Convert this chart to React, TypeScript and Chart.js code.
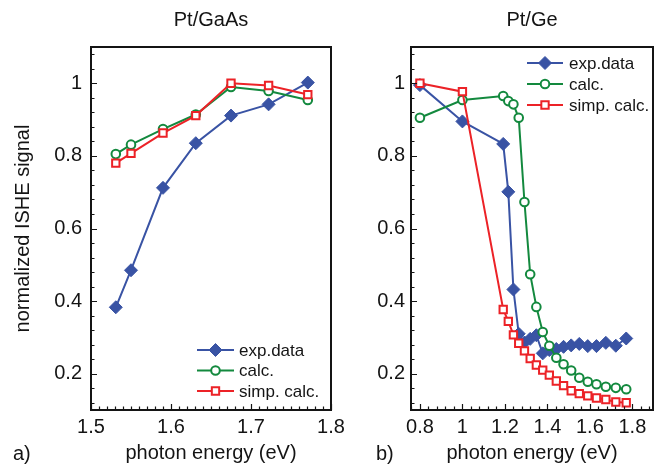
import React, { useEffect, useRef } from "react";
import { Chart, registerables } from "chart.js";
import { drawPoint } from "chart.js/helpers";

Chart.register(...registerables);

const FONT = "'Liberation Sans', Arial, Helvetica, sans-serif";
const INK = "#141414";
const BLUE = "#3953a4";
const GREEN = "#13893e";
const RED = "#ec2227";

// ---- Panel a) Pt/GaAs ----
const energyA = [1.531, 1.55, 1.59, 1.631, 1.675, 1.722, 1.771];
const expA = [0.383, 0.485, 0.712, 0.835, 0.911, 0.942, 1.002];
const calcA = [0.805, 0.831, 0.874, 0.914, 0.99, 0.979, 0.954];
const simpA = [0.78, 0.807, 0.863, 0.911, 1.0, 0.994, 0.969];

// ---- Panel b) Pt/Ge ----
const energyB = [0.8, 1.0, 1.192, 1.216, 1.24, 1.265, 1.292, 1.319, 1.348, 1.378, 1.409, 1.442, 1.476, 1.512, 1.55, 1.59, 1.631, 1.675, 1.722, 1.771];
const expB = [0.995, 0.895, 0.833, 0.701, 0.432, 0.31, 0.286, 0.296, 0.306, 0.256, 0.265, 0.268, 0.274, 0.278, 0.282, 0.276, 0.276, 0.285, 0.277, 0.297];
const calcB = [0.905, 0.954, 0.965, 0.951, 0.942, 0.905, 0.673, 0.474, 0.384, 0.315, 0.277, 0.244, 0.226, 0.209, 0.189, 0.178, 0.171, 0.164, 0.161, 0.157];
const simpB = [1.0, 0.977, 0.377, 0.344, 0.307, 0.284, 0.263, 0.242, 0.224, 0.21, 0.196, 0.18, 0.167, 0.153, 0.145, 0.139, 0.133, 0.129, 0.122, 0.12];

// ---- ticks / labels ----
const yTicks = [0.2, 0.4, 0.6, 0.8, 1];
const xTicksA = [1.5, 1.6, 1.7, 1.8];
const xTicksB = [0.8, 1, 1.2, 1.4, 1.6, 1.8];
const SERIES_NAMES = ["exp.data", "calc.", "simp. calc."];
const X_TITLE = "photon energy (eV)";
const Y_TITLE = "normalized ISHE signal";

const fmt = (v: number) => String(Math.round(v * 100) / 100);

function makeDatasets(xs: number[], exp: number[], calc: number[], simp: number[]) {
  const pts = (ys: number[]) => xs.map((x, i) => ({ x, y: ys[i] }));
  return [
    {
      label: SERIES_NAMES[0], data: pts(exp), showLine: true, tension: 0,
      borderColor: BLUE, backgroundColor: BLUE, borderWidth: 2,
      pointStyle: "rectRot", pointRadius: 6.5, pointBorderWidth: 1,
      pointBackgroundColor: BLUE, pointBorderColor: BLUE, order: 3,
    },
    {
      label: SERIES_NAMES[1], data: pts(calc), showLine: true, tension: 0,
      borderColor: GREEN, backgroundColor: GREEN, borderWidth: 2,
      pointStyle: "circle", pointRadius: 4.3, pointBorderWidth: 2,
      pointBackgroundColor: "#ffffff", pointBorderColor: GREEN, order: 2,
    },
    {
      label: SERIES_NAMES[2], data: pts(simp), showLine: true, tension: 0,
      borderColor: RED, backgroundColor: RED, borderWidth: 2,
      pointStyle: "rect", pointRadius: 5.2, pointBorderWidth: 2,
      pointBackgroundColor: "#ffffff", pointBorderColor: RED, order: 1,
    },
  ];
}

const decorPlugin = {
  id: "panelDecor",
  afterDraw(chart: any, _args: any, o: any) {
    const { ctx, chartArea: a } = chart;
    const xs = chart.scales.x;
    const ys = chart.scales.y;
    const isMajor = (v: number, list: number[]) => list.some((m) => Math.abs(m - v) < 1e-6);
    ctx.save();
    ctx.strokeStyle = INK;
    ctx.lineWidth = 1.2;
    ctx.beginPath();
    for (let i = Math.ceil(xs.min / o.xMinor - 1e-6); i * o.xMinor <= xs.max + 1e-9; i++) {
      const v = i * o.xMinor;
      const px = Math.round(xs.getPixelForValue(v)) + 0.5;
      const len = isMajor(v, o.xMajor) ? 6 : 3.5;
      ctx.moveTo(px, a.bottom);
      ctx.lineTo(px, a.bottom - len);
    }
    for (let i = Math.ceil(ys.min / o.yMinor - 1e-6); i * o.yMinor <= ys.max + 1e-9; i++) {
      const v = i * o.yMinor;
      const py = Math.round(ys.getPixelForValue(v)) + 0.5;
      const len = isMajor(v, o.yMajor) ? 6 : 3.5;
      ctx.moveTo(a.left, py);
      ctx.lineTo(a.left + len, py);
    }
    ctx.stroke();
    ctx.lineWidth = 2;
    ctx.strokeRect(a.left, a.top, a.right - a.left, a.bottom - a.top);

    // legend
    chart.data.datasets.forEach((ds: any, i: number) => {
      const y = o.legendY[i];
      ctx.strokeStyle = ds.borderColor;
      ctx.lineWidth = ds.borderWidth;
      ctx.beginPath();
      ctx.moveTo(o.legendX0, y);
      ctx.lineTo(o.legendX1, y);
      ctx.stroke();
      ctx.fillStyle = ds.pointBackgroundColor;
      ctx.strokeStyle = ds.pointBorderColor;
      ctx.lineWidth = ds.pointBorderWidth;
      drawPoint(ctx, { pointStyle: ds.pointStyle, radius: ds.pointRadius, rotation: 0, borderWidth: ds.pointBorderWidth } as any, (o.legendX0 + o.legendX1) / 2, y);
      ctx.fillStyle = INK;
      ctx.font = `17px ${FONT}`;
      ctx.textBaseline = "middle";
      ctx.textAlign = "left";
      ctx.fillText(ds.label, o.textX, y + 1);
    });

    // panel letter
    ctx.fillStyle = INK;
    ctx.font = `20px ${FONT}`;
    ctx.textBaseline = "alphabetic";
    ctx.textAlign = "left";
    ctx.fillText(o.label, o.labelX, 460);
    ctx.restore();
  },
};

type PanelCfg = {
  left: number; width: number; title: string;
  xs: number[]; exp: number[]; calc: number[]; simp: number[];
  xMin: number; xMax: number; xTicks: number[]; xMinor: number;
  yWidth: number; yPad: number; yTitle: boolean; padRight: number;
  label: string; labelX: number;
  legendX0: number; legendX1: number; textX: number; legendY: number[];
};

function buildConfig(p: PanelCfg): any {
  const font = { family: FONT, size: 20, weight: "normal" as const };
  return {
    type: "scatter",
    data: { datasets: makeDatasets(p.xs, p.exp, p.calc, p.simp) },
    options: {
      animation: false,
      responsive: false,
      devicePixelRatio: 1,
      events: [],
      layout: { padding: { left: 0, right: p.padRight, top: 0, bottom: 0 } },
      plugins: {
        legend: { display: false },
        tooltip: { enabled: false },
        title: {
          display: true, text: p.title, fullSize: false, color: INK, font,
          padding: { top: 8, bottom: 15 },
        },
        panelDecor: {
          xMinor: p.xMinor, xMajor: p.xTicks, yMinor: 0.04, yMajor: yTicks,
          label: p.label, labelX: p.labelX,
          legendX0: p.legendX0, legendX1: p.legendX1, textX: p.textX, legendY: p.legendY,
        },
      },
      scales: {
        x: {
          type: "linear", min: p.xMin, max: p.xMax,
          afterBuildTicks: (s: any) => { s.ticks = p.xTicks.map((v) => ({ value: v })); },
          afterFit: (s: any) => { s.height = 60; s.paddingLeft = 0; s.paddingRight = 0; },
          grid: { display: false, drawTicks: false },
          border: { display: false },
          ticks: { autoSkip: false, maxRotation: 0, padding: 5, color: INK, font, callback: (v: any) => fmt(Number(v)) },
          title: { display: true, text: X_TITLE, color: INK, font, padding: { top: 0, bottom: 5 } },
        },
        y: {
          type: "linear", min: 0.1, max: 1.1,
          afterBuildTicks: (s: any) => { s.ticks = yTicks.map((v) => ({ value: v })); },
          afterFit: (s: any) => { s.width = p.yWidth; s.paddingTop = 0; s.paddingBottom = 0; },
          grid: { display: false, drawTicks: false },
          border: { display: false },
          ticks: { autoSkip: false, padding: p.yPad, color: INK, font, callback: (v: any) => fmt(Number(v)) },
          title: p.yTitle
            ? { display: true, text: Y_TITLE, color: INK, font, padding: { top: 11, bottom: 0 } }
            : { display: false },
        },
      },
    },
    plugins: [decorPlugin],
  };
}

const panelA: PanelCfg = {
  left: 0, width: 360, title: "Pt/GaAs",
  xs: energyA, exp: expA, calc: calcA, simp: simpA,
  xMin: 1.5, xMax: 1.8, xTicks: xTicksA, xMinor: 0.01,
  yWidth: 91, yPad: 9, yTitle: true, padRight: 29,
  label: "a)", labelX: 13,
  legendX0: 197, legendX1: 234, textX: 239, legendY: [350, 370.5, 391],
};

const panelB: PanelCfg = {
  left: 336, width: 336, title: "Pt/Ge",
  xs: energyB, exp: expB, calc: calcB, simp: simpB,
  xMin: 0.758, xMax: 1.897, xTicks: xTicksB, xMinor: 0.04,
  yWidth: 75, yPad: 6, yTitle: false, padRight: 19,
  label: "b)", labelX: 40,
  legendX0: 191, legendX1: 227, textX: 233, legendY: [63, 84, 105],
};

function Panel({ cfg }: { cfg: PanelCfg }) {
  const ref = useRef<HTMLCanvasElement>(null);
  useEffect(() => {
    const chart = new Chart(ref.current as HTMLCanvasElement, buildConfig(cfg));
    return () => chart.destroy();
  }, [cfg]);
  return (
    <canvas
      ref={ref}
      width={cfg.width}
      height={470}
      style={{ position: "absolute", left: cfg.left, top: 0, width: cfg.width, height: 470, display: "block" }}
    />
  );
}

export default function App() {
  return (
    <div style={{ position: "absolute", left: 0, top: 0, width: 672, height: 470, background: "#ffffff", overflow: "hidden" }}>
      <Panel cfg={panelA} />
      <Panel cfg={panelB} />
    </div>
  );
}
